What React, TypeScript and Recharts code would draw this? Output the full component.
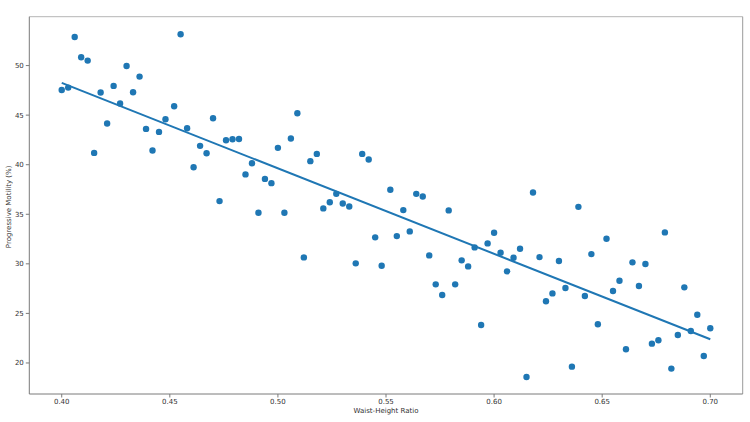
import React from 'react';
import { ScatterChart, Scatter, XAxis, YAxis, Label, ReferenceLine } from 'recharts';

// waist-height ratio (x) and progressive motility (y)
const ratio = [
  0.400, 0.403, 0.406, 0.409, 0.412, 0.415, 0.418, 0.421, 0.424, 0.427,
  0.430, 0.433, 0.436, 0.439, 0.442, 0.445, 0.448, 0.452, 0.455, 0.458,
  0.461, 0.464, 0.467, 0.470, 0.473, 0.476, 0.479, 0.482, 0.485, 0.488,
  0.491, 0.494, 0.497, 0.500, 0.503, 0.506, 0.509, 0.512, 0.515, 0.518,
  0.521, 0.524, 0.527, 0.530, 0.533, 0.536, 0.539, 0.542, 0.545, 0.548,
  0.552, 0.555, 0.558, 0.561, 0.564, 0.567, 0.570, 0.573, 0.576, 0.579,
  0.582, 0.585, 0.588, 0.591, 0.594, 0.597, 0.600, 0.603, 0.606, 0.609,
  0.612, 0.615, 0.618, 0.621, 0.624, 0.627, 0.630, 0.633, 0.636, 0.639,
  0.642, 0.645, 0.648, 0.652, 0.655, 0.658, 0.661, 0.664, 0.667, 0.670,
  0.673, 0.676, 0.679, 0.682, 0.685, 0.688, 0.691, 0.694, 0.697, 0.700,
];

const motility = [
  47.54, 47.78, 52.88, 50.84, 50.50, 41.19, 47.28, 44.16, 47.95, 46.17,
  49.96, 47.31, 48.89, 43.61, 41.43, 43.31, 44.59, 45.90, 53.16, 43.68,
  39.75, 41.90, 41.16, 44.69, 36.33, 42.47, 42.57, 42.60, 39.02, 40.15,
  35.15, 38.57, 38.14, 41.70, 35.15, 42.64, 45.19, 30.65, 40.36, 41.09,
  35.59, 36.22, 37.06, 36.09, 35.79, 30.05, 41.09, 40.53, 32.67, 29.81,
  37.47, 32.80, 35.42, 33.27, 37.06, 36.80, 30.85, 27.93, 26.85, 35.39,
  27.93, 30.35, 29.74, 31.66, 23.83, 32.06, 33.13, 31.12, 29.24, 30.61,
  31.52, 18.59, 37.20, 30.68, 26.22, 27.02, 30.28, 27.56, 19.63, 35.75,
  26.75, 30.98, 23.90, 32.53, 27.26, 28.29, 21.38, 30.15, 27.76, 29.98,
  21.95, 22.29, 33.17, 19.43, 22.82, 27.63, 23.22, 24.87, 20.71, 23.50,
];

// fitted line end points
const trendX = [0.4, 0.7];
const trendY = [48.25, 22.39];

const xTicks = [0.4, 0.45, 0.5, 0.55, 0.6, 0.65, 0.7];
const yTicks = [20, 25, 30, 35, 40, 45, 50];

const X_DOMAIN = [0.385, 0.715];
const Y_DOMAIN = [16.87, 54.93];

const BLUE = '#1f77b4';
const FONT = "'DejaVu Sans', sans-serif";

const points = ratio.map((x, i) => ({ x, y: motility[i] }));
const trend = trendX.map((x, i) => ({ x, y: trendY[i] }));

const tickStyle = { fontSize: 7, fill: '#333', fontFamily: FONT };

const Dot = (props: any) => <circle cx={props.cx} cy={props.cy} r={3.2} fill={BLUE} />;

const YTitle = (props: any) => {
  const { x, y, height } = props.viewBox;
  const cx = x + 9;
  const cy = y + height / 2 + 1.5;
  return (
    <text x={cx} y={cy} transform={`rotate(-90, ${cx}, ${cy})`} textAnchor="middle"
      dominantBaseline="central" fontSize={7} fill="#333" fontFamily={FONT}>
      Progressive Motility (%)
    </text>
  );
};

const XTitle = (props: any) => {
  const { x, y, width } = props.viewBox;
  return (
    <text x={x + width / 2} y={y + 17} textAnchor="middle" dominantBaseline="central"
      fontSize={7} fill="#333" fontFamily={FONT}>
      Waist-Height Ratio
    </text>
  );
};

const App: React.FC = () => {
  return (
    <div style={{ width: 750, height: 422, background: '#fff' }}>
      <style>{'body{margin:0}'}</style>
      <ScatterChart width={750} height={422} margin={{ top: 16.7, right: 7.3, bottom: 0, left: 0 }}>
        <XAxis type="number" dataKey="x" domain={X_DOMAIN} ticks={xTicks}
          allowDataOverflow tickFormatter={(v: number) => v.toFixed(2)} tick={tickStyle}
          tickSize={3.5} tickMargin={2} height={28} stroke="#7a7a7a" tickLine={{ stroke: '#7a7a7a' }}>
          <Label content={<XTitle />} />
        </XAxis>
        <YAxis type="number" dataKey="y" domain={Y_DOMAIN} ticks={yTicks}
          allowDataOverflow tick={tickStyle} tickSize={3.5} tickMargin={2} width={29.3}
          stroke="#7a7a7a" tickLine={{ stroke: '#7a7a7a' }}>
          <Label content={<YTitle />} />
        </YAxis>
        <ReferenceLine y={Y_DOMAIN[1]} stroke="#b5b5b5" ifOverflow="visible" />
        <ReferenceLine x={X_DOMAIN[1]} stroke="#9a9a9a" ifOverflow="visible" />
        <Scatter data={points} shape={<Dot />} isAnimationActive={false} />
        <Scatter data={trend} line={{ stroke: BLUE, strokeWidth: 2 }}
          shape={() => <g />} isAnimationActive={false} />
      </ScatterChart>
    </div>
  );
};

export default App;
